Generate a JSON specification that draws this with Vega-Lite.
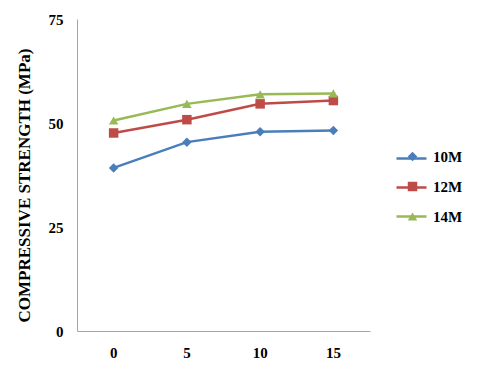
{
  "$schema": "https://vega.github.io/schema/vega-lite/v6.json",
  "width": 293,
  "height": 312,
  "autosize": {"type": "none"},
  "padding": {"left": 77, "top": 19, "right": 110, "bottom": 43},
  "background": "white",
  "config": {
    "view": {"stroke": null},
    "font": "Liberation Serif",
    "axis": {"domainColor": "#a6a6a6", "domainWidth": 1, "ticks": false, "grid": false, "labelFont": "Liberation Serif", "labelFontWeight": "bold", "labelFontSize": 15, "labelColor": "black", "titleFont": "Liberation Serif", "titleFontWeight": "bold", "titleColor": "black"}
  },
  "data": {
    "values": [
      {"x": "0", "s": "10M", "v": 39.2},
      {"x": "5", "s": "10M", "v": 45.4},
      {"x": "10", "s": "10M", "v": 47.9},
      {"x": "15", "s": "10M", "v": 48.2},
      {"x": "0", "s": "12M", "v": 47.6},
      {"x": "5", "s": "12M", "v": 50.8},
      {"x": "10", "s": "12M", "v": 54.6},
      {"x": "15", "s": "12M", "v": 55.4},
      {"x": "0", "s": "14M", "v": 50.6},
      {"x": "5", "s": "14M", "v": 54.6},
      {"x": "10", "s": "14M", "v": 56.9},
      {"x": "15", "s": "14M", "v": 57.1}
    ]
  },
  "encoding": {
    "x": {"field": "x", "type": "ordinal", "sort": ["0", "5", "10", "15"], "scale": {"type": "band", "paddingInner": 0, "paddingOuter": 0}, "axis": {"title": null, "labelAngle": 0, "labelPadding": 14, "domainColor": "#a6a6a6"}},
    "y": {"field": "v", "type": "quantitative", "scale": {"domain": [0, 75], "nice": false}, "axis": {"values": [0, 25, 50, 75], "title": "COMPRESSIVE STRENGTH (MPa)", "titleFontSize": 17, "titleAngle": -90, "titleX": -53, "titleY": 166, "titleAlign": "center", "titleBaseline": "middle", "labelPadding": 14}}
  },
  "layer": [
    {
      "mark": {"type": "line", "strokeWidth": 2.5},
      "encoding": {
        "stroke": {"field": "s", "type": "nominal", "scale": {"range": ["#4A7EBB", "#BE4B48", "#98B954"]},
          "legend": {"title": null, "orient": "none", "legendX": 318, "legendY": 123, "symbolType": "stroke", "symbolSize": 900, "symbolStrokeWidth": 2.5, "rowPadding": 4, "labelFontSize": 15, "labelExpr": "''"}}
      }
    },
    {
      "mark": {"type": "point", "filled": true, "opacity": 1, "size": 90},
      "encoding": {
        "color": {"field": "s", "type": "nominal", "scale": {"domain": ["10M", "12M", "14M"], "range": ["#4A7EBB", "#BE4B48", "#98B954"]},
          "legend": {"title": null, "orient": "none", "legendX": 328, "legendY": 130, "symbolSize": 90, "symbolOpacity": 1, "rowPadding": 14, "labelFont": "Liberation Serif", "labelFontWeight": "bold", "labelFontSize": 15, "labelColor": "black", "labelOffset": 13, "symbolStrokeWidth": 0}},
        "shape": {"field": "s", "type": "nominal", "scale": {"domain": ["10M", "12M", "14M"], "range": ["diamond", "square", "triangle-up"]},
          "legend": {"title": null, "orient": "none", "legendX": 328, "legendY": 130, "symbolSize": 90, "symbolOpacity": 1, "rowPadding": 14, "labelFont": "Liberation Serif", "labelFontWeight": "bold", "labelFontSize": 15, "labelColor": "black", "labelOffset": 13, "symbolStrokeWidth": 0}}
      }
    }
  ]
}
